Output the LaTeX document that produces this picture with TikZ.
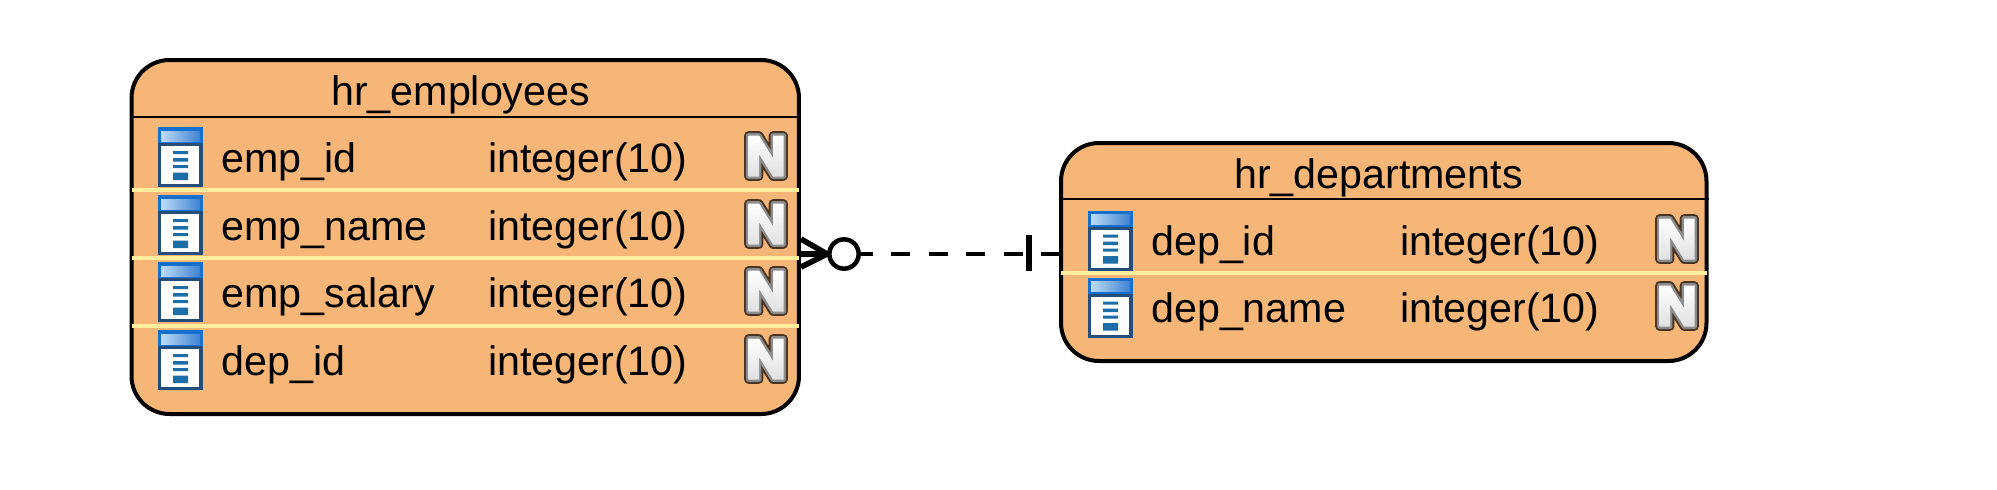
\documentclass[tikz,border=0pt]{standalone}
\usepackage{fontspec}
\setmainfont{Liberation Sans}
\usetikzlibrary{calc}
\definecolor{tablefill}{HTML}{F5B678}
\definecolor{rowline}{HTML}{FFEE9E}
\definecolor{iconnavy}{HTML}{234E7C}
\definecolor{iconblue}{HTML}{1470CC}
\definecolor{iconlight}{HTML}{BCDCF6}
\definecolor{iconmid}{HTML}{3F82D2}
\definecolor{iconbar}{HTML}{1C6EA8}
\definecolor{nbrown}{HTML}{4A3422}
\definecolor{ngray}{HTML}{8C8C8C}
\tikzset{
  x=0.75pt,y=-0.75pt,
  tablebox/.style={draw=black,line width=3pt,fill=tablefill,rounded corners=28.5pt,inner sep=0pt,shape=rectangle},
  headrule/.style={draw=black,line width=1.6pt},
  rowrule/.style={draw=rowline,line width=3pt},
  tabletext/.style={anchor=base west,inner sep=0pt,font=\fontsize{30.9pt}{36pt}\selectfont,text=black},
  relline/.style={draw=black,line width=4.2pt},
  pics/rowicon/.style={code={
    \fill[iconnavy] (0,0) rectangle (45,60);
    \fill[iconblue] (0,0) rectangle (45,16);
    \shade[left color=iconlight,right color=iconmid] (3,4) rectangle (42,14);
    \fill[white] (3,19) rectangle (41,57);
    \fill[iconbar] (15,24) rectangle (30,27)
                   (15,31) rectangle (30,34.5)
                   (15,38) rectangle (30,41)
                   (15,45.5) rectangle (30,53);
  }},
  pics/nullflag/.style={code={
    \draw[nbrown,line width=6.5pt,line join=round,fill=nbrown]
      (4.5,4.5) -- (15,4.5) -- (29,27) -- (29,4.5) -- (39.5,4.5) -- (39.5,45.5) -- (29,45.5) -- (15,23) -- (15,45.5) -- (4.5,45.5) -- cycle;
    \draw[ngray,line width=3.6pt,line join=round,fill=ngray]
      (4.5,4.5) -- (15,4.5) -- (29,27) -- (29,4.5) -- (39.5,4.5) -- (39.5,45.5) -- (29,45.5) -- (15,23) -- (15,45.5) -- (4.5,45.5) -- cycle;
    \shade[top color=white,bottom color=black!12]
      (4.5,4.5) -- (15,4.5) -- (29,27) -- (29,4.5) -- (39.5,4.5) -- (39.5,45.5) -- (29,45.5) -- (15,23) -- (15,45.5) -- (4.5,45.5) -- cycle;
  }},
}
\begin{document}
\begin{tikzpicture}
\useasboundingbox (0,0) rectangle (1997,489);

% tables
\node[tablebox,minimum width=500.6pt,minimum height=265.5pt] (emp) at (465.25,237) {};
\node[tablebox,minimum width=484.1pt,minimum height=163.5pt] (dep) at (1383.75,252) {};

% header and row rules of hr_employees
\coordinate (e0) at (0,116.7);
\coordinate (e1) at (0,190);
\coordinate (e2) at (0,258);
\coordinate (e3) at (0,325.5);
\draw[headrule] (emp.west |- e0) -- (emp.east |- e0);
\draw[rowrule] ($(emp.west |- e1)+(2,0)$) -- ($(emp.east |- e1)+(-2,0)$);
\draw[rowrule] ($(emp.west |- e2)+(2,0)$) -- ($(emp.east |- e2)+(-2,0)$);
\draw[rowrule] ($(emp.west |- e3)+(2,0)$) -- ($(emp.east |- e3)+(-2,0)$);

% header and row rules of hr_departments
\coordinate (d0) at (0,199.3);
\coordinate (d1) at (0,273);
\draw[headrule] (dep.west |- d0) -- (dep.east |- d0);
\draw[rowrule] ($(dep.west |- d1)+(2,0)$) -- ($(dep.east |- d1)+(-2,0)$);

% titles
\node[tabletext] (empt) at (331,105) {hr\_employees};
\node[tabletext] (dept) at (1234,188) {hr\_departments};

% rows of hr_employees
\pic at (158,127) {rowicon};
\pic at (158,195) {rowicon};
\pic at (158,262) {rowicon};
\pic at (158,330) {rowicon};
\node[tabletext] (e1n) at (221.5,172.5) {emp\_id};
\node[tabletext] (e2n) at (221.5,240) {emp\_name};
\node[tabletext] (e3n) at (221.5,307.5) {emp\_salary};
\node[tabletext] (e4n) at (221.5,375) {dep\_id};
\node[tabletext] (e1t) at (488,172.5) {integer(10)};
\node[tabletext] (e2t) at (488,240) {integer(10)};
\node[tabletext] (e3t) at (488,307.5) {integer(10)};
\node[tabletext] (e4t) at (488,375) {integer(10)};
\pic at (744,131) {nullflag};
\pic at (744,199) {nullflag};
\pic at (744,266) {nullflag};
\pic at (744,334) {nullflag};

% rows of hr_departments
\pic at (1088,210.5) {rowicon};
\pic at (1088,277.5) {rowicon};
\node[tabletext] (d1n) at (1151,255) {dep\_id};
\node[tabletext] (d2n) at (1151,322.5) {dep\_name};
\node[tabletext] (d1t) at (1400,255) {integer(10)};
\node[tabletext] (d2t) at (1400,322.5) {integer(10)};
\pic at (1655,214) {nullflag};
\pic at (1655,281) {nullflag};

% relationship
\coordinate (rely) at (0,254);
\node[draw=black,line width=3.4pt,fill=white,circle,minimum size=22pt,inner sep=0pt] (opt) at (844,254) {};
\coordinate (fromp) at (emp.east |- rely);
\coordinate (top) at ($(fromp)+(0,-15)$);
\coordinate (bot) at ($(fromp)+(0,13)$);
\coordinate (mand) at ($(dep.west |- rely)+(-30,0)$);
\draw[black,line width=3.2pt,dash pattern=on 14.2pt off 13.9pt,dash phase=5.25pt] (opt.east) -- (dep.west |- rely);
\draw[relline] (fromp) -- (opt.west);
\draw[relline] (top) -- (opt.west);
\draw[relline] (bot) -- (opt.west);
\draw[relline] ($(mand)+(0,-19)$) -- ($(mand)+(0,17)$);
\end{tikzpicture}
\end{document}
